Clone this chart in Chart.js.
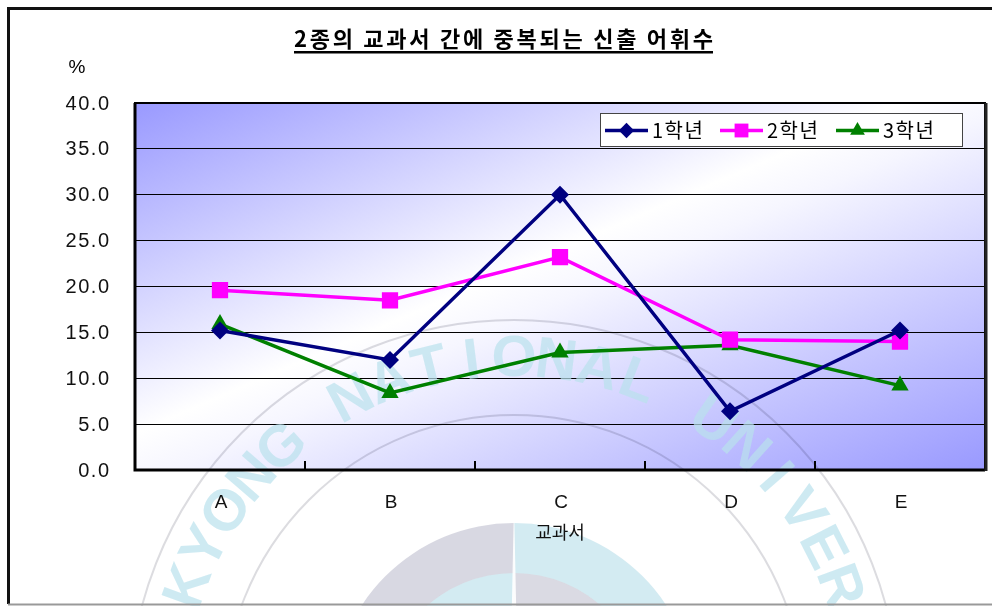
<!DOCTYPE html>
<html>
<head>
<meta charset="utf-8">
<script src="https://cdn.jsdelivr.net/npm/chart.js@4/dist/chart.umd.min.js"></script>
<style>
html,body{margin:0;padding:0;background:#fff;}
#wrap{width:992px;height:606px;position:relative;}
canvas{display:block;}
</style>
</head>
<body>
<div id="wrap"><canvas id="c" width="992" height="606"></canvas></div>
<script>
const categories = ['A', 'B', 'C', 'D', 'E'];
const grade1 = [15.2, 12.0, 30.0, 6.4, 15.2];
const grade2 = [19.6, 18.5, 23.2, 14.2, 14.0];
const grade3 = [15.9, 8.4, 12.8, 13.6, 9.2];
const seriesNames = ['1학년', '2학년', '3학년'];
const yTicks = [0, 5, 10, 15, 20, 25, 30, 35, 40];
const chartTitle = '2종의 교과서 간에 중복되는 신출 어휘수';
const yUnit = '%';
const xTitle = '교과서';
const watermarkText = 'KYONG NATIONAL UNIVERSITY';

const FONT = "'Liberation Sans', 'Noto Sans CJK KR', sans-serif";
const KFONT = "'Noto Sans CJK KR', 'Liberation Sans', sans-serif";

function drawMarker(ctx, style, x, y, r, color) {
  ctx.save();
  ctx.fillStyle = color;
  ctx.beginPath();
  if (style === 'rectRot') {
    ctx.moveTo(x, y - r); ctx.lineTo(x + r, y); ctx.lineTo(x, y + r); ctx.lineTo(x - r, y);
  } else if (style === 'rect') {
    const s = Math.SQRT1_2 * r;
    ctx.rect(x - s, y - s, 2 * s, 2 * s);
  } else if (style === 'triangle') {
    const a = 2 * Math.PI / 3;
    ctx.moveTo(x, y - r);
    ctx.lineTo(x + Math.sin(a) * r, y + r / 2);
    ctx.lineTo(x - Math.sin(a) * r, y + r / 2);
  }
  ctx.closePath();
  ctx.fill();
  ctx.restore();
}

function spacedText(ctx, text, x, y, spacing) {
  ctx.save();
  ctx.letterSpacing = spacing + 'px';
  const w = ctx.measureText(text).width - spacing;
  let sx = x;
  if (ctx.textAlign === 'center') sx = x - w / 2;
  else if (ctx.textAlign === 'right') sx = x - w;
  ctx.textAlign = 'left';
  ctx.fillText(text, sx, y);
  ctx.restore();
  return w;
}

function drawWatermark(ctx) {
  const cx = 514, cy = 705;
  ctx.save();
  ctx.globalCompositeOperation = 'multiply';
  ctx.strokeStyle = '#dcdce0';
  ctx.lineWidth = 2;
  [385, 290].forEach(r => { ctx.beginPath(); ctx.arc(cx, cy, r, 0, Math.PI * 2); ctx.stroke(); });
  const R1 = 182, R2 = 132;
  ctx.fillStyle = '#d8d8e2';
  ctx.beginPath(); ctx.arc(cx, cy, R1, Math.PI / 2, Math.PI * 1.5); ctx.arc(cx, cy, R2, Math.PI * 1.5, Math.PI / 2, true); ctx.fill();
  ctx.fillStyle = '#d3ebf2';
  ctx.beginPath(); ctx.arc(cx, cy, R1, -Math.PI / 2, Math.PI / 2); ctx.arc(cx, cy, R2, Math.PI / 2, -Math.PI / 2, true); ctx.fill();
  ctx.fillStyle = '#d3ebf2';
  ctx.beginPath(); ctx.moveTo(cx, cy); ctx.arc(cx, cy, R2, Math.PI / 2, Math.PI * 1.5); ctx.fill();
  ctx.fillStyle = '#dadae3';
  ctx.beginPath(); ctx.moveTo(cx, cy); ctx.arc(cx, cy, R2, -Math.PI / 2, Math.PI / 2); ctx.fill();
  ctx.restore();
  ctx.save();
  ctx.fillStyle = 'rgba(255,255,255,0.9)';
  ctx.beginPath();
  ctx.moveTo(cx, cy - R1 - 20); ctx.lineTo(cx + 4, cy - 10); ctx.lineTo(cx - 4, cy - 10); ctx.closePath(); ctx.fill();
  ctx.fillRect(cx - 44, cy - 70, 44, 40);
  ctx.restore();
  ctx.save();
  ctx.fillStyle = 'rgba(185,225,236,0.7)';
  ctx.font = "bold 58px 'Liberation Sans', sans-serif";
  ctx.textAlign = 'center';
  ctx.textBaseline = 'middle';
  const R = 345;
  const start = 200 * Math.PI / 180, step = 7 * Math.PI / 180;
  for (let i = 0; i < watermarkText.length; i++) {
    const a = start + i * step;
    ctx.save();
    ctx.translate(cx + R * Math.cos(a), cy + R * Math.sin(a));
    ctx.rotate(a + Math.PI / 2);
    ctx.fillText(watermarkText[i], 0, 0);
    ctx.restore();
  }
  ctx.restore();
}

const decor = {
  id: 'decor',
  beforeDraw(chart) {
    const ctx = chart.ctx;
    const a = chart.chartArea;
    ctx.save();
    ctx.fillStyle = '#ffffff';
    ctx.fillRect(0, 0, chart.width, chart.height);
    const W = a.right - a.left, H = a.bottom - a.top;
    const t = 2 * W * H / (W * W + H * H);
    const g = ctx.createLinearGradient(a.left, a.top, a.left + H * t, a.top + W * t);
    g.addColorStop(0, '#9999ff');
    g.addColorStop(0.45, '#ffffff');
    g.addColorStop(0.52, '#f6f6ff');
    g.addColorStop(1, '#9999ff');
    ctx.fillStyle = g;
    ctx.fillRect(a.left, a.top, W, H);
    ctx.restore();
  },
  beforeDatasetsDraw(chart) {
    drawWatermark(chart.ctx);
  },
  afterDraw(chart) {
    const ctx = chart.ctx;
    const a = chart.chartArea;
    const xs = chart.scales.x, ys = chart.scales.y;
    ctx.save();
    ctx.strokeStyle = '#000';
    ctx.lineWidth = 2;
    ctx.strokeRect(a.left, a.top, a.right - a.left, a.bottom - a.top);
    ctx.lineWidth = 3;
    ctx.beginPath();
    ctx.moveTo(a.left, a.top); ctx.lineTo(a.left, a.bottom); ctx.lineTo(a.right, a.bottom);
    ctx.stroke();
    ctx.strokeStyle = '#222';
    ctx.beginPath();
    ctx.moveTo(a.right + 1, a.top); ctx.lineTo(a.right + 1, a.bottom + 1);
    ctx.stroke();
    ctx.strokeStyle = '#000';
    ctx.lineWidth = 2;
    for (let i = 1; i < categories.length; i++) {
      const x = Math.round((xs.getPixelForValue(i - 1) + xs.getPixelForValue(i)) / 2);
      ctx.beginPath();
      ctx.moveTo(x, a.bottom); ctx.lineTo(x, a.bottom - 9);
      ctx.stroke();
    }
    ctx.strokeStyle = '#111';
    ctx.lineWidth = 3;
    ctx.beginPath();
    ctx.moveTo(8.5, chart.height - 2); ctx.lineTo(8.5, 8.5); ctx.lineTo(chart.width, 8.5);
    ctx.stroke();
    ctx.strokeStyle = '#999';
    ctx.lineWidth = 2;
    ctx.beginPath();
    ctx.moveTo(8, chart.height - 1.5); ctx.lineTo(chart.width, chart.height - 1.5);
    ctx.stroke();
    ctx.fillStyle = '#111';
    ctx.font = "20px " + FONT;
    ctx.textAlign = 'right';
    ctx.textBaseline = 'middle';
    yTicks.forEach(v => spacedText(ctx, v.toFixed(1), a.left - 26, ys.getPixelForValue(v) + 1, 1.5));
    ctx.font = "19px " + FONT;
    ctx.textAlign = 'center';
    categories.forEach((c, i) => ctx.fillText(c, xs.getPixelForValue(i) + 1, a.bottom + 33));
    ctx.font = "18px " + KFONT;
    ctx.fillText(xTitle, xs.left + (xs.right - xs.left) / 2, a.bottom + 62);
    ctx.fillStyle = '#000';
    ctx.font = "bold 22px " + KFONT;
    ctx.textAlign = 'left';
    ctx.textBaseline = 'alphabetic';
    const tx0 = 294, tx1 = 713, ty = 47;
    ctx.letterSpacing = '0px';
    const w0 = ctx.measureText(chartTitle).width;
    const sp = (tx1 - tx0 - w0) / (chartTitle.length - 1);
    spacedText(ctx, chartTitle, tx0, ty, sp);
    ctx.fillRect(tx0, ty + 4, tx1 - tx0, 2.5);
    ctx.font = "19px " + FONT;
    ctx.textAlign = 'center';
    ctx.textBaseline = 'middle';
    ctx.fillText(yUnit, 77, 68);
    const lx = 600, ly = 113, lw = 362, lh = 33;
    ctx.fillStyle = '#fff';
    ctx.fillRect(lx, ly, lw, lh);
    ctx.strokeStyle = '#444';
    ctx.lineWidth = 1;
    ctx.strokeRect(lx + 0.5, ly + 0.5, lw, lh);
    const starts = [605, 720, 836];
    const cyL = ly + lh / 2 + 1;
    chart.data.datasets.forEach((ds, i) => {
      const x0 = starts[i];
      ctx.strokeStyle = ds.borderColor;
      ctx.lineWidth = 3.5;
      ctx.beginPath();
      ctx.moveTo(x0, cyL); ctx.lineTo(x0 + 43, cyL);
      ctx.stroke();
      drawMarker(ctx, ds.pointStyle, x0 + 21.5, cyL, ds.pointRadius * 0.85, ds.pointBackgroundColor);
      ctx.fillStyle = '#000';
      ctx.font = "20px " + KFONT;
      ctx.textAlign = 'left';
      ctx.textBaseline = 'middle';
      spacedText(ctx, ds.label, x0 + 47, cyL, 1.5);
    });
    ctx.restore();
  }
};

const mk = (label, data, color, style, r) => ({
  label, data,
  borderColor: color, backgroundColor: color,
  pointBackgroundColor: color, pointBorderColor: color,
  pointStyle: style, pointRadius: r, pointHoverRadius: r,
  borderWidth: 3.5, pointBorderWidth: 0, tension: 0, fill: false
});

new Chart(document.getElementById('c'), {
  type: 'line',
  data: {
    labels: categories,
    datasets: [
      mk(seriesNames[0], grade1, '#000080', 'rectRot', 9),
      mk(seriesNames[1], grade2, '#ff00ff', 'rect', 11.5),
      mk(seriesNames[2], grade3, '#008000', 'triangle', 10)
    ]
  },
  options: {
    responsive: false,
    animation: false,
    events: [],
    layout: { autoPadding: false, padding: { left: 0, top: 103, right: 7, bottom: 0 } },
    plugins: { legend: { display: false }, title: { display: false }, tooltip: { enabled: false } },
    scales: {
      x: {
        offset: true,
        grid: { display: false, drawTicks: false },
        border: { display: false },
        ticks: { display: false },
        afterFit(s) { s.height = 136; }
      },
      y: {
        min: 0, max: 40,
        afterBuildTicks(s) { s.ticks = yTicks.map(v => ({ value: v })); },
        grid: { color: '#000', lineWidth: 1, drawTicks: false },
        border: { display: false },
        ticks: { display: false },
        afterFit(s) { s.width = 135; }
      }
    }
  },
  plugins: [decor]
});
</script>
</body>
</html>
